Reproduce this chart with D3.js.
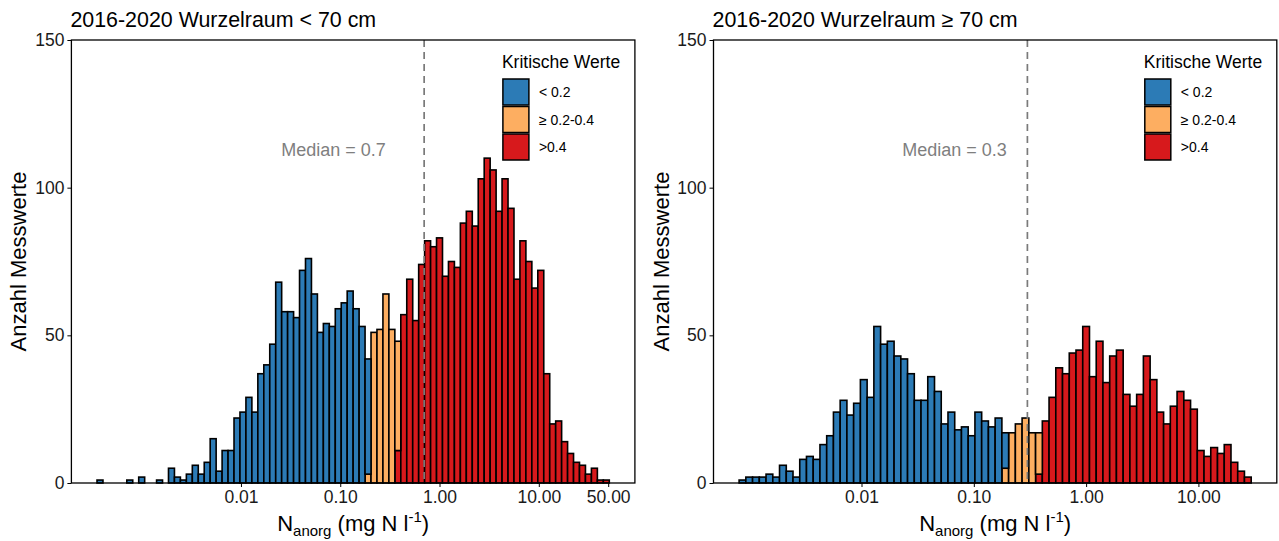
<!DOCTYPE html>
<html><head><meta charset="utf-8">
<script src="https://cdn.jsdelivr.net/npm/d3@7"></script>
<style>body{margin:0;background:#fff} svg{display:block} text{font-family:"Liberation Sans",Arial,sans-serif}</style>
</head><body><svg id="c" width="1279" height="541"></svg>
<script>
// ---------- data ----------
const binWidth = 0.06;            // bin width in log10 units
const leftBinStart = -3.45;       // first bin edge (log10) left panel
const rightBinStart = -3.09;      // first bin edge (log10) right panel

const leftBlue = [1,0,0,0,0,1,0,2,0,0, 1,0,5,2,1,3,6,3,7,15, 4,11,11,22,24,29,24,37,40,47,
  68,58,58,56,72,76,64,51,54,53, 59,61,65,59,53,39,
  0,0,0,0,0,0,0,0,0,0, 0,0,0,0,0,0,0,0,0,0, 0,0,0,0,0,0,0,0,0,0, 0,0,0,0,0,0,0,0,0,0];
const leftOrange = [0,0,0,0,0,0,0,0,0,0, 0,0,0,0,0,0,0,0,0,0, 0,0,0,0,0,0,0,0,0,0, 0,0,0,0,0,0,0,0,0,0, 0,0,0,0,0,
  3,51,52,64,52,37,
  0,0,0,0,0,0,0,0,0,0, 0,0,0,0,0,0,0,0,0,0, 0,0,0,0,0,0,0,0,0,0, 0,0,0,0,0];
const leftRed = [0,0,0,0,0,0,0,0,0,0, 0,0,0,0,0,0,0,0,0,0, 0,0,0,0,0,0,0,0,0,0, 0,0,0,0,0,0,0,0,0,0, 0,0,0,0,0,0,0,0,0,0,
  11,57,69,55,74,82,80,83,70,75,73,88,92,87,103,110,106,92,103,93,69,82,75,66,72,37,20,21,14,10,7,6,3,5,1,1];

const rightBlue = [1,2,2,2,3,2,6,4,2,8, 9,8,13,16,24,28,23,27,35,29, 53,47,48,43,42,37,28,28,36,31,
  20,24,18,19,16,24,21,19,22,12,
  0,0,0,0,0,0,0,0,0,0, 0,0,0,0,0,0,0,0,0,0, 0,0,0,0,0,0,0,0,0,0, 0,0,0,0,0,0];
const rightOrange = [0,0,0,0,0,0,0,0,0,0, 0,0,0,0,0,0,0,0,0,0, 0,0,0,0,0,0,0,0,0,0, 0,0,0,0,0,0,0,0,0,
  5,17,20,22,17,14,
  0,0,0,0,0,0,0,0,0,0, 0,0,0,0,0,0,0,0,0,0, 0,0,0,0,0,0,0,0,0,0, 0];
const rightRed = [0,0,0,0,0,0,0,0,0,0, 0,0,0,0,0,0,0,0,0,0, 0,0,0,0,0,0,0,0,0,0, 0,0,0,0,0,0,0,0,0,0, 0,0,0,0,
  3,21,29,39,37,44,45,53,36,48,34,43,45,30,26,30,43,35,24,20,26,31,28,25,11,9,12,10,13,7,4,2];

const titles = ["2016-2020 Wurzelraum < 70 cm", "2016-2020 Wurzelraum \u2265 70 cm"];
const medians = [0.7, 0.3];
const medianLabels = ["Median = 0.7", "Median = 0.3"];
const medianLabelX = [0.0855, 0.0673];
const leftTicks = [0.01, 0.1, 1, 10, 50];
const rightTicks = [0.01, 0.1, 1, 10];
const yTicks = [0, 50, 100, 150];
const legendTitle = "Kritische Werte";
const legendLabels = ["< 0.2", "\u2265 0.2-0.4", ">0.4"];
const legendKeys = ["blue", "orange", "red"];
const colors = {blue: "#2C7BB6", orange: "#FDAE61", red: "#D7191C"};

// ---------- layout ----------
const panels = [
  {left: 71.4, right: 634.9, start: leftBinStart, blue: leftBlue, orange: leftOrange, red: leftRed, ticks: leftTicks},
  {left: 713.5, right: 1276.8, start: rightBinStart, blue: rightBlue, orange: rightOrange, red: rightRed, ticks: rightTicks}
];
const panelTop = 40, panelBottom = 483;
const svg = d3.select("#c");
const FONT = '"Liberation Sans",Arial,sans-serif';

panels.forEach((p, pi) => {
  const n = p.blue.length;
  const table = p.blue.map((b, i) => ({
    x0: Math.pow(10, p.start + i * binWidth),
    x1: Math.pow(10, p.start + (i + 1) * binWidth),
    blue: b, orange: p.orange[i], red: p.red[i]
  }));
  const lo = p.start, hi = p.start + n * binWidth, ex = (hi - lo) * 0.05;
  const x = d3.scaleLog().domain([Math.pow(10, lo - ex), Math.pow(10, hi + ex)]).range([p.left, p.right]);
  const y = d3.scaleLinear().domain([0, 150]).range([panelBottom, panelTop]);

  const g = svg.append("g");
  const stack = d3.stack().keys(["red", "orange", "blue"])(table);
  stack.forEach(layer => {
    g.append("g").selectAll("rect")
      .data(layer.filter(d => d[1] - d[0] > 0))
      .join("rect")
      .attr("x", d => x(d.data.x0))
      .attr("width", d => x(d.data.x1) - x(d.data.x0))
      .attr("y", d => y(d[1]))
      .attr("height", d => y(d[0]) - y(d[1]))
      .attr("fill", colors[layer.key])
      .attr("stroke", "#000")
      .attr("stroke-width", 1.6);
  });

  // median line
  g.append("line")
    .attr("x1", x(medians[pi])).attr("x2", x(medians[pi]))
    .attr("y1", panelTop).attr("y2", panelBottom)
    .attr("stroke", "#7a7a7a").attr("stroke-width", 1.7).attr("stroke-dasharray", "7,5");
  g.append("text")
    .attr("x", x(medianLabelX[pi])).attr("y", 156)
    .attr("text-anchor", "middle").attr("fill", "#7f7f7f").attr("font-size", 18)
    .text(medianLabels[pi]);

  // panel border
  g.append("rect").attr("x", p.left).attr("y", panelTop)
    .attr("width", p.right - p.left).attr("height", panelBottom - panelTop)
    .attr("fill", "none").attr("stroke", "#000").attr("stroke-width", 1.3);

  // axes
  const xa = g.append("g").attr("transform", `translate(0,${panelBottom})`)
    .call(d3.axisBottom(x).tickValues(p.ticks).tickFormat(d3.format(".2f")).tickSize(4).tickPadding(4));
  xa.select(".domain").remove();
  xa.selectAll("text").attr("font-size", 17.5).attr("fill", "#1a1a1a").attr("font-family", FONT);
  xa.selectAll("line").attr("stroke", "#000");

  const ya = g.append("g").attr("transform", `translate(${p.left},0)`)
    .call(d3.axisLeft(y).tickValues(yTicks).tickSize(4).tickPadding(3));
  ya.select(".domain").remove();
  ya.selectAll("text").attr("font-size", 17.5).attr("fill", "#1a1a1a").attr("font-family", FONT);
  ya.selectAll("line").attr("stroke", "#000");

  // title
  g.append("text").attr("x", p.left - 1).attr("y", 27).attr("font-size", 21.4).attr("fill", "#000").text(titles[pi]);

  // y title
  g.append("text")
    .attr("transform", `translate(${p.left - 45},${(panelTop + panelBottom) / 2}) rotate(-90)`)
    .attr("text-anchor", "middle").attr("font-size", 22).attr("fill", "#000")
    .text("Anzahl Messwerte");

  // x title
  const xt = g.append("text").attr("x", (p.left + p.right) / 2).attr("y", 531)
    .attr("text-anchor", "middle").attr("font-size", 22).attr("fill", "#000");
  xt.append("tspan").text("N");
  xt.append("tspan").attr("font-size", 15).attr("dy", 5).text("anorg");
  xt.append("tspan").attr("dy", -5).text(" (mg N l");
  xt.append("tspan").attr("font-size", 15).attr("dy", -9).text("-1");
  xt.append("tspan").attr("dy", 9).text(")");

  // legend
  const lx = p.right - 132;
  g.append("text").attr("x", lx - 1).attr("y", 68).attr("font-size", 17.5).attr("fill", "#000").text(legendTitle);
  legendKeys.forEach((k, i) => {
    const ky = 79 + i * 27.5;
    g.append("rect").attr("x", lx).attr("y", ky).attr("width", 26).attr("height", 26)
      .attr("fill", colors[k]).attr("stroke", "#000").attr("stroke-width", 1.5);
    g.append("text").attr("x", lx + 36).attr("y", ky + 18).attr("font-size", 14).attr("fill", "#000").text(legendLabels[i]);
  });
});
</script></body></html>
